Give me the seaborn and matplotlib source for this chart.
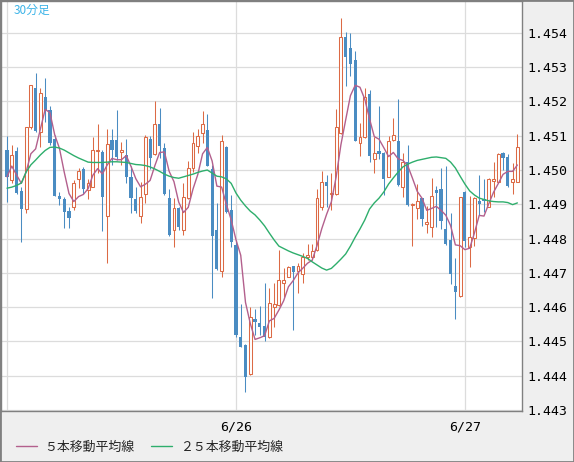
import numpy as np
import pandas as pd
import matplotlib
matplotlib.use("Agg")
import matplotlib.pyplot as plt
import seaborn as sns

# 30-minute candles, 6/25 00:00 .. 6/27 05:30
opens = [1.45058, 1.44971, 1.45055, 1.44939, 1.44887, 1.45125, 1.45239, 1.45112, 1.45214, 1.45175, 1.45090, 1.44924,
         1.44914, 1.44879, 1.44891, 1.44973, 1.45003, 1.44942, 1.44951, 1.45056, 1.45053, 1.44867, 1.45088, 1.45088,
         1.45052, 1.45044, 1.44980, 1.44915, 1.44867, 1.44929, 1.45090, 1.45046, 1.45133, 1.45063, 1.44917, 1.44825,
         1.44888, 1.44825, 1.44917, 1.45005, 1.45070, 1.45107, 1.45117, 1.45003, 1.44825, 1.44705, 1.45066, 1.44883,
         1.44781, 1.44512, 1.44489, 1.44405, 1.44564, 1.44553, 1.44545, 1.44512, 1.44601, 1.44606, 1.44669, 1.44689,
         1.44720, 1.44706, 1.44697, 1.44747, 1.44745, 1.44767, 1.44893, 1.44964, 1.44930, 1.44930, 1.45107, 1.45389,
         1.45357, 1.45321, 1.45080, 1.45095, 1.45221, 1.45031, 1.45055, 1.45049, 1.44980, 1.45088, 1.45085, 1.44951,
         1.45024, 1.44898, 1.44888, 1.44917, 1.44842, 1.44835, 1.44942, 1.44945, 1.44828, 1.44796, 1.44662, 1.44632,
         1.44935, 1.44776, 1.44801, 1.44910, 1.44914, 1.44893, 1.44967, 1.44966, 1.45050, 1.45037, 1.44966, 1.44966]
highs = [1.45099, 1.45072, 1.45066, 1.44950, 1.45126, 1.45248, 1.45283, 1.45238, 1.45268, 1.45187, 1.45102, 1.44937,
         1.44921, 1.44892, 1.44971, 1.45007, 1.45010, 1.44974, 1.45096, 1.45134, 1.45057, 1.45119, 1.45119, 1.45175,
         1.45082, 1.45090, 1.45012, 1.44950, 1.44964, 1.45102, 1.45099, 1.45201, 1.45180, 1.45078, 1.44944, 1.44917,
         1.44893, 1.44963, 1.45027, 1.45110, 1.45119, 1.45172, 1.45163, 1.45015, 1.44903, 1.45102, 1.45070, 1.44927,
         1.44796, 1.44609, 1.44492, 1.44599, 1.44594, 1.44603, 1.44669, 1.44655, 1.44669, 1.44767, 1.44713, 1.44720,
         1.44721, 1.44728, 1.44759, 1.44783, 1.44783, 1.44944, 1.44997, 1.44985, 1.44990, 1.45178, 1.45444, 1.45402,
         1.45399, 1.45347, 1.45138, 1.45238, 1.45233, 1.45095, 1.45187, 1.45053, 1.45100, 1.45151, 1.45207, 1.45050,
         1.45073, 1.44904, 1.44959, 1.44918, 1.44895, 1.44976, 1.44953, 1.45005, 1.45012, 1.44874, 1.44742, 1.44921,
         1.44939, 1.44924, 1.44922, 1.44985, 1.44973, 1.44977, 1.45024, 1.45050, 1.45053, 1.45047, 1.45020, 1.45105]
lows = [1.44907, 1.44963, 1.44931, 1.44791, 1.44874, 1.45120, 1.45111, 1.45068, 1.45141, 1.45073, 1.44923, 1.44898,
        1.44832, 1.44832, 1.44883, 1.44947, 1.44930, 1.44914, 1.44950, 1.44991, 1.44823, 1.44730, 1.45015, 1.45029,
        1.45015, 1.44961, 1.44875, 1.44874, 1.44846, 1.44905, 1.45002, 1.45044, 1.45034, 1.44927, 1.44807, 1.44776,
        1.44825, 1.44810, 1.44915, 1.44995, 1.45049, 1.45078, 1.45012, 1.44627, 1.44708, 1.44689, 1.44874, 1.44776,
        1.44513, 1.44483, 1.44353, 1.44402, 1.44519, 1.44519, 1.44501, 1.44510, 1.44543, 1.44603, 1.44630, 1.44688,
        1.44533, 1.44642, 1.44669, 1.44737, 1.44737, 1.44764, 1.44883, 1.44893, 1.44883, 1.44927, 1.45105, 1.45245,
        1.45274, 1.45084, 1.45041, 1.45093, 1.45024, 1.44992, 1.45031, 1.44927, 1.44979, 1.45085, 1.44953, 1.44920,
        1.44895, 1.44778, 1.44856, 1.44837, 1.44817, 1.44804, 1.44833, 1.44827, 1.44781, 1.44667, 1.44565, 1.44629,
        1.44776, 1.44718, 1.44778, 1.44869, 1.44878, 1.44892, 1.44922, 1.44965, 1.45000, 1.44951, 1.44930, 1.44965]
closes = [1.44980, 1.45043, 1.44934, 1.44887, 1.45125, 1.45248, 1.45114, 1.45224, 1.45173, 1.45078, 1.44925, 1.44914,
          1.44878, 1.44861, 1.44962, 1.44997, 1.44945, 1.44962, 1.45058, 1.45058, 1.44920, 1.45075, 1.45058, 1.45039,
          1.45058, 1.44980, 1.44917, 1.44880, 1.44920, 1.45095, 1.45036, 1.45133, 1.45071, 1.44929, 1.44810, 1.44888,
          1.44833, 1.44920, 1.45005, 1.45078, 1.45099, 1.45134, 1.45013, 1.44808, 1.44711, 1.45085, 1.44878, 1.44791,
          1.44519, 1.44484, 1.44397, 1.44572, 1.44557, 1.44543, 1.44514, 1.44613, 1.44608, 1.44679, 1.44679, 1.44718,
          1.44703, 1.44720, 1.44747, 1.44752, 1.44764, 1.44917, 1.44966, 1.44954, 1.44934, 1.45126, 1.45387, 1.45329,
          1.45309, 1.45085, 1.45097, 1.45214, 1.45042, 1.45049, 1.45047, 1.44973, 1.45085, 1.45102, 1.44956, 1.45024,
          1.44898, 1.44901, 1.44910, 1.44856, 1.44847, 1.44925, 1.44932, 1.44852, 1.44784, 1.44697, 1.44643, 1.44920,
          1.44794, 1.44805, 1.44919, 1.44900, 1.44910, 1.44973, 1.44973, 1.45047, 1.45034, 1.44953, 1.44973, 1.45066]
# 25-period average as shown on the chart (needs history before the window)
ma25 = [1.44947, 1.44950, 1.44955, 1.44962, 1.44994, 1.45015, 1.45029, 1.45044, 1.45057, 1.45066, 1.45067, 1.45064,
        1.45058, 1.45050, 1.45042, 1.45035, 1.45029, 1.45023, 1.45022, 1.45022, 1.45022, 1.45023, 1.45024, 1.45024,
        1.45023, 1.45022, 1.45019, 1.45016, 1.45015, 1.45013, 1.45009, 1.45003, 1.44996, 1.44988, 1.44982, 1.44978,
        1.44976, 1.44980, 1.44984, 1.44988, 1.44993, 1.44997, 1.45000, 1.44991, 1.44982, 1.44980, 1.44974, 1.44961,
        1.44933, 1.44912, 1.44895, 1.44880, 1.44869, 1.44854, 1.44837, 1.44816, 1.44796, 1.44778, 1.44771, 1.44764,
        1.44758, 1.44753, 1.44748, 1.44742, 1.44732, 1.44723, 1.44714, 1.44708, 1.44713, 1.44726, 1.44740, 1.44755,
        1.44778, 1.44804, 1.44828, 1.44854, 1.44886, 1.44904, 1.44918, 1.44936, 1.44959, 1.44977, 1.44994, 1.45009,
        1.45017, 1.45023, 1.45028, 1.45031, 1.45034, 1.45037, 1.45038, 1.45036, 1.45034, 1.45023, 1.45006, 1.44982,
        1.44959, 1.44939, 1.44927, 1.44918, 1.44914, 1.44910, 1.44908, 1.44907, 1.44907, 1.44905, 1.44899, 1.44904]

ytick_values = [1.443, 1.444, 1.445, 1.446, 1.447, 1.448, 1.449, 1.450, 1.451, 1.452, 1.453, 1.454]
date_ticks = [0, 48, 96]
date_labels = ["", "6/26", "6/27"]

df = pd.DataFrame({"open": opens, "high": highs, "low": lows, "close": closes, "ma25": ma25})
df["idx"] = np.arange(len(df))
df["ma5"] = df["close"].rolling(5, min_periods=1).mean()
up = df["close"] >= df["open"]

orange = "#dc6a45"
blue = "#4a8cc2"
mauve = "#b3608d"
green = "#2eae6c"

sns.set_style("white")
plt.rcParams['font.family'] = ['Noto Sans CJK JP', 'DejaVu Sans']

fig = plt.figure(figsize=(5.74, 4.62), dpi=100)
fig.patch.set_facecolor("#efefef")
ax = fig.add_axes([1 / 574, 51 / 462, 521 / 574, 410 / 462])
ax.set_facecolor("white")

# candles
wick_colors = [orange if u else blue for u in up]
ax.vlines(df["idx"], df["low"], df["high"], colors=wick_colors, linewidth=0.75, zorder=2)
ax.bar(df["idx"][up], (df["close"] - df["open"])[up], bottom=df["open"][up], width=0.6,
       facecolor="white", edgecolor=orange, linewidth=0.75, zorder=3)
ax.bar(df["idx"][~up], (df["open"] - df["close"])[~up], bottom=df["close"][~up], width=0.66,
       color=blue, linewidth=0, zorder=3)

# moving averages
sns.lineplot(data=df, x="idx", y="ma5", ax=ax, color=mauve, linewidth=1.0, label="５本移動平均線", zorder=4)
sns.lineplot(data=df, x="idx", y="ma25", ax=ax, color=green, linewidth=1.0, label="２５本移動平均線", zorder=4)

ax.set_xlim(-1.26, 107.97)
ax.set_ylim(1.44297, 1.45493)
ax.set_xlabel("")
ax.set_ylabel("")

ax.yaxis.tick_right()
ax.set_yticks(ytick_values)
ax.set_yticklabels([f"{v:.3f}" for v in ytick_values], fontfamily="DejaVu Sans Mono", fontsize=9.5)
ax.set_xticks(date_ticks)
ax.set_xticklabels(date_labels, fontfamily="DejaVu Sans Mono", fontsize=9.5)
ax.tick_params(axis="y", length=0, pad=4, colors="black")
ax.tick_params(axis="x", length=0, pad=7, colors="black")

ax.grid(True, color="#dcdcdc", linewidth=0.9)
ax.set_axisbelow(True)
for s in ax.spines.values():
    s.set_color("#808080")
    s.set_linewidth(1.0)

ax.legend(loc="center left", bbox_to_anchor=(16 / 574, 1 - 447 / 462), bbox_transform=fig.transFigure,
          ncol=2, frameon=False, fontsize=9.3, handlelength=1.6, handletextpad=0.6,
          columnspacing=1.3, borderpad=0, borderaxespad=0)

fig.text(14 / 574, 1 - 10 / 462, "30分足", color="#3db4e8", fontsize=8.5, va="center", ha="left")

fig.patches.append(plt.Rectangle((0, 0), 1, 1, transform=fig.transFigure, fill=False,
                                 edgecolor="#808080", linewidth=2))

fig.savefig("out.png", dpi=100)
